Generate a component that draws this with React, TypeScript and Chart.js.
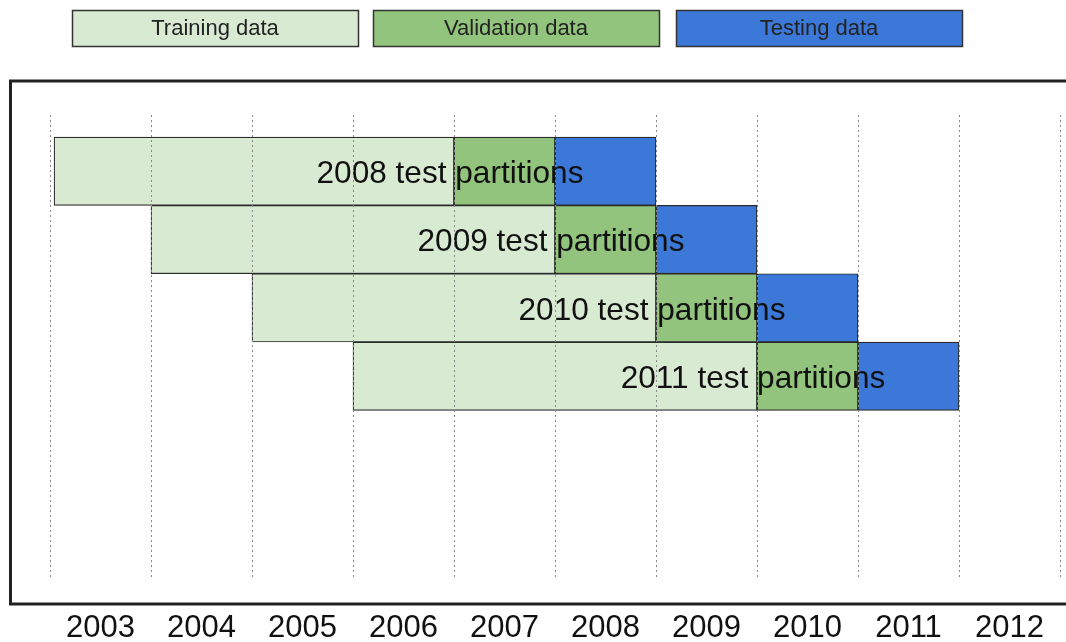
import React, { useEffect, useRef } from "react";
import { Chart, registerables } from "chart.js";

Chart.register(...registerables);

const seriesNames = ["Training data", "Validation data", "Testing data"];
const seriesColors = ["#d9ead3", "#93c47d", "#3c78d8"];
const rowIndex = [1, 2, 3, 4];
const testYears = [2008, 2009, 2010, 2011];
const trainingStart = [2003.04, 2004, 2005, 2006];
const trainingEnd = [2007, 2008, 2009, 2010];
const validationStart = [2007, 2008, 2009, 2010];
const validationEnd = [2008, 2009, 2010, 2011];
const testingStart = [2008, 2009, 2010, 2011];
const testingEnd = [2009, 2010, 2011, 2012];
const yearMin = 2003;
const yearMax = 2013;

const FONT = '"Liberation Sans", Arial, sans-serif';

const rowLabelPlugin = {
  id: "rowLabels",
  afterDatasetsDraw(chart: any) {
    const { ctx } = chart;
    const xs = chart.scales.x;
    const ys = chart.scales.y;
    ctx.save();
    ctx.font = `31.6px ${FONT}`;
    ctx.fillStyle = "#111";
    ctx.textAlign = "center";
    ctx.textBaseline = "middle";
    rowIndex.forEach((r, i) => {
      const x = xs.getPixelForValue(validationStart[i]) - 4;
      const y = ys.getPixelForValue(r) + 3;
      ctx.fillText(`${testYears[i]} test partitions`, x, y);
    });
    ctx.restore();
  },
};

const framePlugin = {
  id: "frameAndLegend",
  afterDraw(chart: any) {
    const { ctx } = chart;
    ctx.save();
    ctx.strokeStyle = "#222";
    ctx.lineWidth = 3;
    ctx.strokeRect(10.5, 81, 1090, 523);
    const boxX = [72, 373, 676];
    const boxW = 286;
    const boxY = 10;
    const boxH = 36;
    ctx.font = `22px ${FONT}`;
    ctx.textAlign = "center";
    ctx.textBaseline = "middle";
    seriesNames.forEach((name, i) => {
      ctx.fillStyle = seriesColors[i];
      ctx.fillRect(boxX[i], boxY, boxW, boxH);
      ctx.strokeStyle = "#333";
      ctx.lineWidth = 1.5;
      ctx.strokeRect(boxX[i] + 0.5, boxY + 0.5, boxW, boxH);
      ctx.fillStyle = "#222";
      ctx.fillText(name, boxX[i] + boxW / 2, boxY + boxH / 2 + 1);
    });
    ctx.restore();
  },
};

function makeData(starts: number[], ends: number[]) {
  return rowIndex.map((r, i) => ({ x: [starts[i], ends[i]], y: r }));
}

export default function App() {
  const ref = useRef<HTMLCanvasElement | null>(null);
  useEffect(() => {
    document.body.style.margin = "0";
    document.body.style.overflow = "hidden";
    const canvas = ref.current;
    if (!canvas) return;
    const ranges = [
      [trainingStart, trainingEnd],
      [validationStart, validationEnd],
      [testingStart, testingEnd],
    ];
    const chart = new Chart(canvas, {
      type: "bar",
      data: {
        datasets: seriesNames.map((name, k) => ({
          label: name,
          data: makeData(ranges[k][0], ranges[k][1]) as any,
          backgroundColor: seriesColors[k],
          borderColor: "#2a2a2a",
          borderWidth: 1.2,
          borderSkipped: false,
          barPercentage: 1,
          categoryPercentage: 1,
        })),
      },
      options: {
        indexAxis: "y",
        responsive: false,
        animation: false,
        events: [],
        layout: { padding: { top: 115, left: 50, right: 6, bottom: 0 } },
        plugins: {
          legend: { display: false },
          tooltip: { enabled: false },
        },
        scales: {
          x: {
            type: "linear",
            min: yearMin,
            max: yearMax,
            grid: { color: "#888", lineWidth: 1, drawTicks: false, z: 1 },
            border: { display: false, dash: [2, 3] },
            ticks: {
              stepSize: 1,
              autoSkip: false,
              maxRotation: 0,
              labelOffset: 50.5,
              padding: 36,
              color: "#111",
              font: { family: FONT, size: 31, lineHeight: 1 },
              callback: (v: any) => (Number(v) >= yearMax ? "" : String(v)),
            },
            afterFit: (scale: any) => {
              scale.paddingLeft = 0;
              scale.paddingRight = 0;
              scale.height = 65;
            },
          },
          y: {
            type: "linear",
            reverse: true,
            stacked: true,
            offset: false,
            min: 0.176,
            max: 6.94,
            display: false,
            afterBuildTicks: (scale: any) => {
              scale.ticks = rowIndex.map((v) => ({ value: v }));
            },
          },
        },
      } as any,
      plugins: [rowLabelPlugin, framePlugin],
    });
    return () => chart.destroy();
  }, []);
  return (
    <canvas
      ref={ref}
      width={1066}
      height={642}
      style={{ position: "absolute", left: 0, top: 0, display: "block" }}
    />
  );
}
